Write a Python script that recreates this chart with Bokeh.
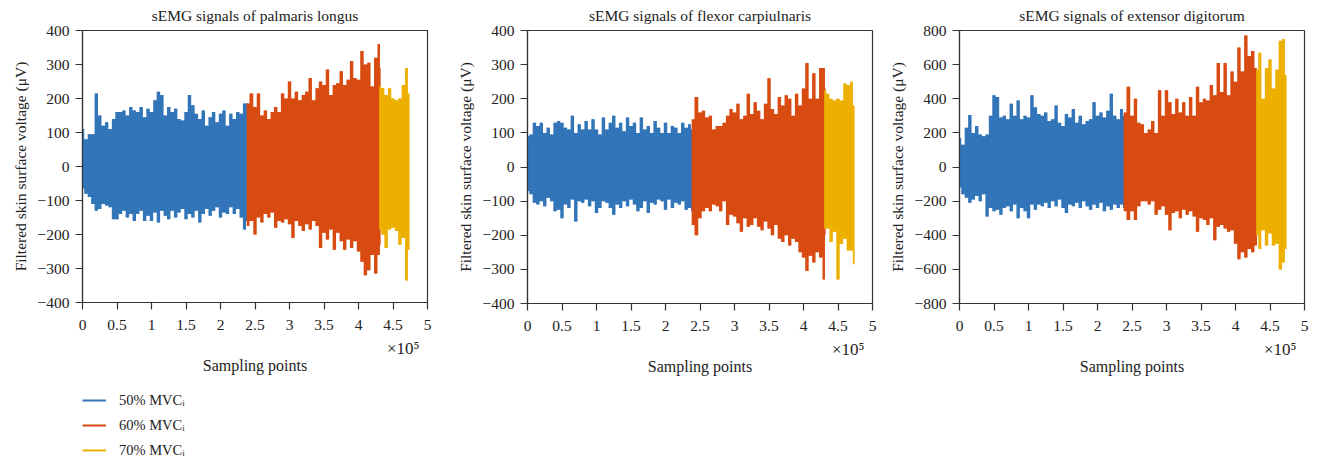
from bokeh.plotting import figure
from bokeh.layouts import row, column
from bokeh.models import Range1d, FixedTicker, CustomJSTickFormatter, Legend, LegendItem, Title
from bokeh.embed import file_html
from bokeh.resources import INLINE

# x positions in units of 10^5 sampling points (envelope sample grid)
x_50 = [0.00, 0.05, 0.10, 0.15, 0.20, 0.25, 0.30, 0.35, 0.40, 0.45, 0.50, 0.55, 0.60, 0.65, 0.70,
        0.75, 0.80, 0.85, 0.90, 0.95, 1.00, 1.05, 1.10, 1.15, 1.20, 1.25, 1.30, 1.35, 1.40, 1.45,
        1.50, 1.55, 1.60, 1.65, 1.70, 1.75, 1.80, 1.85, 1.90, 1.95, 2.00, 2.05, 2.10, 2.15, 2.20,
        2.25, 2.30, 2.35, 2.39]
x_60 = [2.39, 2.45, 2.50, 2.55, 2.60, 2.65, 2.70, 2.75, 2.80, 2.85, 2.90, 2.95, 3.00, 3.05, 3.10,
        3.15, 3.20, 3.25, 3.30, 3.35, 3.40, 3.45, 3.50, 3.55, 3.60, 3.65, 3.70, 3.75, 3.80, 3.85,
        3.90, 3.95, 4.00, 4.05, 4.10, 4.15, 4.20, 4.25, 4.30, 4.31]
x_70 = [4.31, 4.35, 4.40, 4.45, 4.50, 4.55, 4.60, 4.65, 4.70, 4.73]

# Panel 1: palmaris longus (upper / lower envelope, uV)
pl_up_50 = [110, 80, 95, 95, 215, 150, 120, 130, 110, 140, 160, 160, 165, 150, 175, 165, 160, 175, 145, 170,
            160, 195, 220, 210, 150, 175, 160, 170, 140, 135, 160, 210, 180, 155, 140, 165, 120, 145, 160, 130,
            155, 165, 120, 155, 140, 160, 155, 185, 185]
pl_lo_50 = [-65, -80, -90, -110, -130, -125, -110, -115, -120, -155, -155, -140, -130, -150, -140, -160, -140,
            -130, -160, -145, -160, -135, -165, -130, -145, -155, -130, -150, -135, -125, -155, -140, -150,
            -130, -165, -140, -125, -145, -130, -120, -150, -135, -140, -120, -140, -125, -150, -185, -160]
pl_up_60 = [185, 215, 175, 215, 150, 165, 140, 160, 175, 160, 215, 200, 250, 200, 220, 195, 210, 220, 260, 195,
            230, 250, 240, 285, 210, 240, 245, 280, 240, 255, 310, 260, 255, 340, 300, 305, 235, 320, 360, 290]
pl_lo_60 = [-175, -160, -200, -150, -165, -140, -150, -135, -180, -160, -165, -155, -170, -210, -160, -175,
            -190, -170, -185, -160, -175, -240, -195, -215, -185, -245, -195, -220, -245, -215, -240, -220,
            -250, -280, -320, -305, -260, -315, -260, -230]
pl_up_70 = [235, 230, 210, 230, 200, 195, 200, 240, 290, 215]
pl_lo_70 = [-185, -200, -240, -185, -180, -190, -230, -210, -335, -245]

# Panel 2: flexor carpiulnaris
fc_up_50 = [90, 95, 130, 120, 130, 100, 115, 95, 130, 135, 130, 115, 110, 150, 100, 125, 110, 135, 110, 140,
            110, 95, 145, 110, 130, 150, 115, 130, 105, 145, 120, 130, 100, 145, 110, 120, 100, 135, 115, 100,
            130, 100, 120, 115, 100, 130, 115, 125, 110]
fc_lo_50 = [-70, -80, -105, -110, -100, -115, -90, -100, -130, -125, -150, -110, -120, -95, -160, -100, -105,
            -95, -115, -100, -135, -120, -100, -105, -120, -140, -110, -120, -100, -115, -95, -110, -130, -120,
            -100, -135, -105, -110, -95, -100, -125, -95, -120, -105, -110, -100, -125, -120, -130]
fc_up_60 = [140, 205, 160, 165, 145, 150, 110, 120, 120, 130, 150, 170, 160, 185, 140, 150, 215, 155, 190, 165,
            140, 185, 260, 170, 155, 205, 180, 210, 200, 150, 215, 180, 230, 305, 200, 275, 200, 290, 290, 230]
fc_lo_60 = [-170, -200, -150, -130, -120, -130, -110, -115, -130, -100, -170, -140, -145, -165, -190, -150,
            -175, -170, -150, -175, -185, -160, -180, -200, -170, -210, -220, -200, -230, -210, -220, -250,
            -265, -305, -260, -280, -250, -265, -330, -200]
fc_up_70 = [225, 215, 200, 195, 200, 195, 245, 240, 250, 180]
fc_lo_70 = [-180, -180, -220, -190, -330, -225, -210, -245, -245, -285]

# Panel 3: extensor digitorum
ed_up_50 = [170, 130, 230, 305, 200, 240, 190, 180, 190, 300, 420, 410, 290, 300, 280, 370, 300, 390, 280, 300,
            290, 420, 350, 310, 300, 320, 270, 280, 360, 260, 240, 310, 290, 340, 260, 300, 250, 270, 280, 380,
            300, 320, 290, 330, 430, 300, 280, 340, 300]
ed_lo_50 = [-120, -160, -180, -210, -190, -170, -200, -160, -290, -240, -260, -250, -280, -240, -230, -260,
            -220, -300, -240, -260, -300, -220, -250, -220, -230, -210, -240, -200, -230, -190, -240, -270,
            -220, -230, -210, -240, -200, -230, -250, -220, -240, -210, -260, -230, -250, -220, -240, -220, -240]
ed_up_60 = [320, 470, 300, 400, 260, 250, 200, 220, 270, 200, 450, 300, 450, 380, 310, 400, 320, 380, 300, 410,
            300, 470, 380, 400, 390, 480, 420, 610, 440, 610, 420, 560, 500, 700, 560, 770, 650, 680, 580, 520]
ed_lo_60 = [-260, -310, -260, -310, -230, -200, -200, -220, -200, -280, -250, -230, -280, -370, -270, -260,
            -300, -250, -280, -260, -290, -380, -300, -310, -340, -300, -430, -350, -340, -360, -380, -370,
            -450, -540, -500, -530, -480, -500, -460, -400]
ed_up_70 = [570, 670, 400, 580, 630, 460, 570, 740, 750, 540]
ed_lo_70 = [-400, -480, -370, -460, -390, -460, -450, -600, -560, -480]

levels = ["50% MVC\u1d62", "60% MVC\u1d62", "70% MVC\u1d62"]
colors = ["#3275B8", "#D84B11", "#EDB000"]
x_ticks = [0, 0.5, 1, 1.5, 2, 2.5, 3, 3.5, 4, 4.5, 5]

FONT = "Liberation Serif"
INK = "#333333"
TXT = "#222222"
ROW_H = 384

fmt = CustomJSTickFormatter(code="""
const s = String(Math.round(Math.abs(tick) * 100) / 100);
return tick < 0 ? '\\u2212' + s : s;
""")


def panel(title, ymax, ystep, ups, los, left, right, top, frame_h):
    p = figure(title=None, frame_width=345, frame_height=frame_h,
               x_range=Range1d(0, 5), y_range=Range1d(-ymax, ymax),
               output_backend="svg", toolbar_location=None,
               min_border_left=left, min_border_right=right, min_border_top=top,
               min_border_bottom=ROW_H - top - frame_h)
    p.add_layout(Title(text=" ", text_font=FONT, text_font_size="5px", standoff=0), "above")
    p.add_layout(Title(text=title, align="center", standoff=0, text_font=FONT,
                       text_font_size="15.5px", text_font_style="normal", text_color=TXT), "above")
    p.grid.visible = False
    p.outline_line_color = INK
    p.outline_line_width = 1.2

    for xs, up, lo, c in zip([x_50, x_60, x_70], ups, los, colors):
        p.varea_step(x=xs, y1=lo, y2=up, step_mode="center", fill_color=c)
        p.segment(x0=xs, y0=lo, x1=xs, y1=up, line_color=c, line_width=1.5)

    p.xaxis.ticker = FixedTicker(ticks=x_ticks)
    p.yaxis.ticker = FixedTicker(ticks=list(range(-ymax, ymax + 1, ystep)))
    p.xaxis.formatter = fmt
    p.yaxis.formatter = fmt
    for ax in (p.xaxis, p.yaxis):
        ax.major_tick_in = 0
        ax.major_tick_out = 7
        ax.minor_tick_line_color = None
        ax.axis_line_color = INK
        ax.axis_line_width = 1.2
        ax.major_tick_line_color = INK
        ax.major_tick_line_width = 1.2
        ax.major_label_text_font = FONT
        ax.major_label_text_font_size = "15.5px"
        ax.major_label_text_color = TXT
        ax.axis_label_text_font = FONT
        ax.axis_label_text_font_size = "15.5px"
        ax.axis_label_text_font_style = "normal"
        ax.axis_label_text_color = TXT
    p.xaxis.major_label_standoff = 10
    p.yaxis.major_label_standoff = 6
    p.yaxis.axis_label = "Filtered skin surface voltage (\u03bcV)"
    p.yaxis.axis_label_standoff = 6

    p.add_layout(Title(text=" ", text_font=FONT, text_font_size="4px", standoff=0), "below")
    p.add_layout(Title(text="\u00d710\u2075", align="right", offset=8, standoff=-6,
                       text_font=FONT, text_font_size="17px", text_font_style="normal",
                       text_color=TXT), "below")
    p.add_layout(Title(text="Sampling points", align="center", standoff=0,
                       text_font=FONT, text_font_size="16px", text_font_style="normal",
                       text_color=TXT), "below")
    return p


p1 = panel("sEMG signals of palmaris longus", 400, 100,
           [pl_up_50, pl_up_60, pl_up_70], [pl_lo_50, pl_lo_60, pl_lo_70],
           left=82, right=13, top=30, frame_h=272)
p2 = panel("sEMG signals of flexor carpiulnaris", 400, 100,
           [fc_up_50, fc_up_60, fc_up_70], [fc_lo_50, fc_lo_60, fc_lo_70],
           left=87, right=8, top=27, frame_h=273)
p3 = panel("sEMG signals of extensor digitorum", 800, 200,
           [ed_up_50, ed_up_60, ed_up_70], [ed_lo_50, ed_lo_60, ed_lo_70],
           left=79, right=25, top=28, frame_h=273)

# legend strip below the first panel (sample lines kept outside the visible range)
leg = figure(width=320, height=466 - ROW_H, x_range=Range1d(0, 1), y_range=Range1d(0, 1),
             x_axis_type=None, y_axis_type=None, output_backend="svg", toolbar_location=None,
             min_border=0, outline_line_color=None)
leg.grid.visible = False
items = []
for lv, c in zip(levels, colors):
    r = leg.line(x=[5, 6], y=[5, 6], line_color=c, line_width=2)
    items.append(LegendItem(label=lv, renderers=[r]))
lg = Legend(items=items, location=(82, 6), orientation="vertical")
lg.label_text_font = FONT
lg.label_text_font_size = "14.5px"
lg.label_text_color = TXT
lg.glyph_width = 24
lg.glyph_height = 20
lg.label_standoff = 13
lg.spacing = 5
lg.padding = 0
lg.margin = 0
lg.border_line_color = None
lg.background_fill_alpha = 0
leg.add_layout(lg)

layout = column(row(p1, p2, p3, spacing=0), leg, spacing=0)
open("out.html", "w").write(file_html(layout, INLINE))
